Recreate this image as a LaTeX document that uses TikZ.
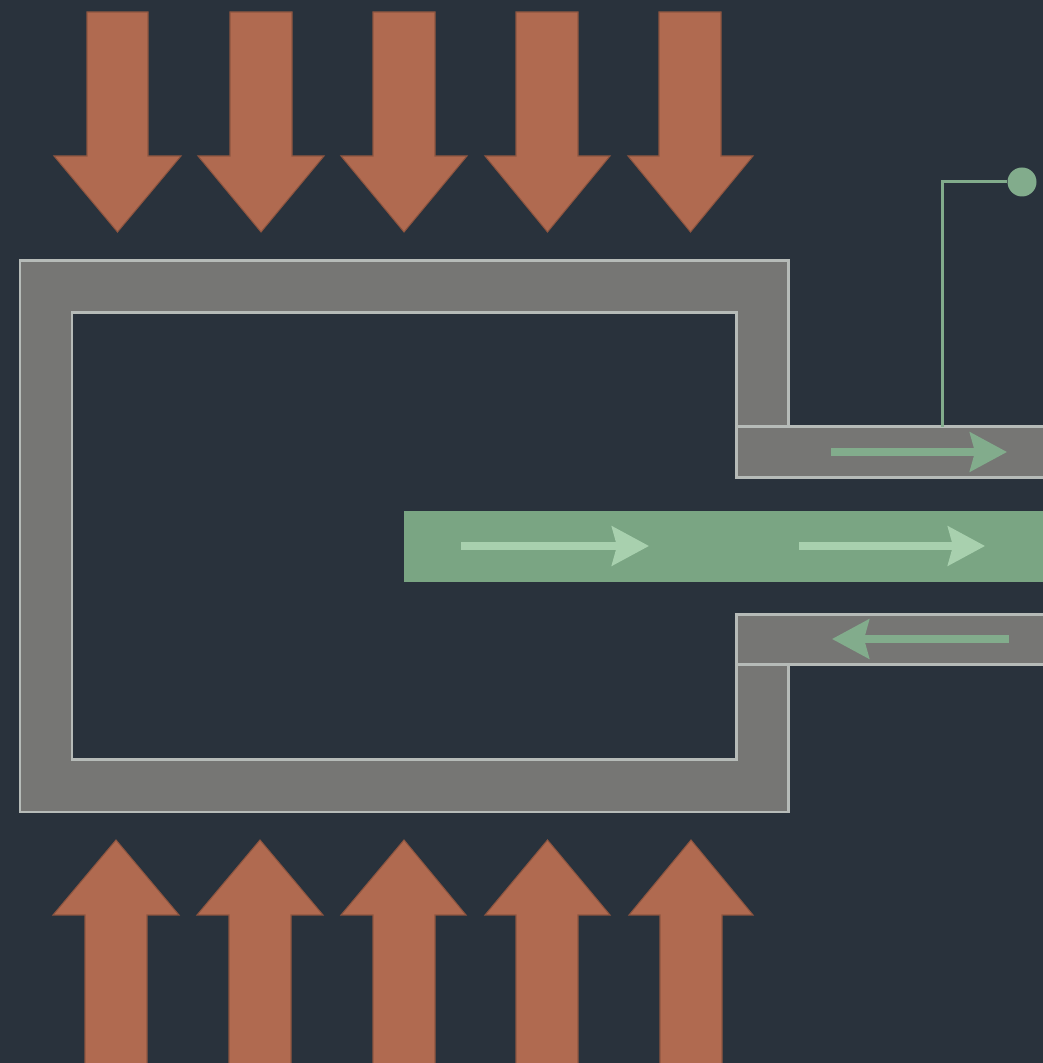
\documentclass[tikz,border=0pt]{standalone}
\usepackage{xcolor}
\usetikzlibrary{arrows.meta}
\definecolor{wellbg}{RGB}{41,50,60}
\definecolor{wallgray}{RGB}{118,118,116}
\definecolor{walledge}{RGB}{182,187,184}
\definecolor{heatred}{RGB}{176,106,80}
\definecolor{rodgreen}{RGB}{122,165,131}
\definecolor{flowlight}{RGB}{168,208,174}
\definecolor{flowdark}{RGB}{130,172,140}

\begin{document}
\begin{tikzpicture}[
  wall/.style={fill=wallgray,draw=walledge,line width=0.85pt,line join=miter},
  heat/.style={fill=heatred,draw=heatred!80!black,line width=0.3pt,line join=miter},
  flow/.style={line width=2pt,-{Stealth[length=3.7mm,width=3.9mm,inset=0.5mm]}},
  sensor/.style={circle,fill=flowdark,inner sep=0pt,minimum size=2.9mm},
  >=Stealth
]
  \useasboundingbox (0,0) rectangle (10.43,10.63);
  \clip (0,0) rectangle (10.43,10.63);
  \fill[wellbg] (0,0) rectangle (10.43,10.63);

  % heat from above
  \draw[heat] (0.87,10.51) -- (1.48,10.51) -- (1.48,9.07) -- (1.81,9.07) -- (1.175,8.31) -- (0.54,9.07) -- (0.87,9.07) -- cycle;
  \draw[heat] (2.30,10.51) -- (2.92,10.51) -- (2.92,9.07) -- (3.24,9.07) -- (2.61,8.31) -- (1.98,9.07) -- (2.30,9.07) -- cycle;
  \draw[heat] (3.73,10.51) -- (4.35,10.51) -- (4.35,9.07) -- (4.67,9.07) -- (4.04,8.31) -- (3.41,9.07) -- (3.73,9.07) -- cycle;
  \draw[heat] (5.16,10.51) -- (5.78,10.51) -- (5.78,9.07) -- (6.10,9.07) -- (5.475,8.31) -- (4.85,9.07) -- (5.16,9.07) -- cycle;
  \draw[heat] (6.59,10.51) -- (7.21,10.51) -- (7.21,9.07) -- (7.53,9.07) -- (6.905,8.31) -- (6.28,9.07) -- (6.59,9.07) -- cycle;

  % heat from below
  \draw[heat] (0.85,-0.05) -- (1.47,-0.05) -- (1.47,1.48) -- (1.79,1.48) -- (1.16,2.23) -- (0.53,1.48) -- (0.85,1.48) -- cycle;
  \draw[heat] (2.29,-0.05) -- (2.91,-0.05) -- (2.91,1.48) -- (3.23,1.48) -- (2.60,2.23) -- (1.97,1.48) -- (2.29,1.48) -- cycle;
  \draw[heat] (3.73,-0.05) -- (4.35,-0.05) -- (4.35,1.48) -- (4.66,1.48) -- (4.04,2.23) -- (3.41,1.48) -- (3.73,1.48) -- cycle;
  \draw[heat] (5.16,-0.05) -- (5.78,-0.05) -- (5.78,1.48) -- (6.10,1.48) -- (5.475,2.23) -- (4.85,1.48) -- (5.16,1.48) -- cycle;
  \draw[heat] (6.60,-0.05) -- (7.22,-0.05) -- (7.22,1.48) -- (7.53,1.48) -- (6.91,2.23) -- (6.29,1.48) -- (6.60,1.48) -- cycle;

  % body and the two sleeves
  \draw[wall] (0.20,8.02) -- (7.88,8.02) -- (7.88,6.36) -- (7.36,6.36) -- (7.36,7.50) -- (0.72,7.50)
    -- (0.72,3.03) -- (7.36,3.03) -- (7.36,3.98) -- (7.88,3.98) -- (7.88,2.51) -- (0.20,2.51) -- cycle;
  \draw[wall] (7.36,6.36) rectangle (10.60,5.85);
  \draw[wall] (7.36,4.48) rectangle (10.60,3.98);

  % inner rod
  \fill[rodgreen] (4.04,5.52) rectangle (10.60,4.81);

  \draw[flow,flowdark] (8.31,6.11) -- (10.07,6.11);
  \draw[flow,flowdark] (10.09,4.24) -- (8.32,4.24);
  \draw[flow,flowlight] (4.61,5.17) -- (6.49,5.17);
  \draw[flow,flowlight] (7.99,5.17) -- (9.85,5.17);

  % sensor tap
  \coordinate (tap) at (9.42,6.36);
  \node[sensor] (probe) at (10.22,8.81) {};
  \draw[flowdark,line width=0.85pt] (tap) |- (probe);
\end{tikzpicture}
\end{document}
